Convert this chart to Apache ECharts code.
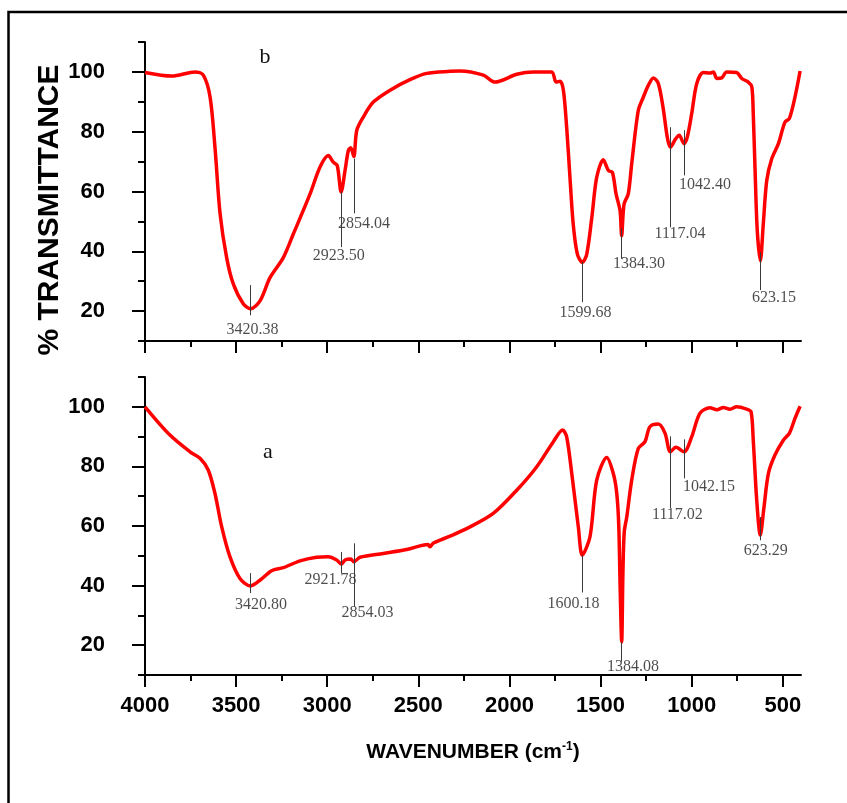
<!DOCTYPE html>
<html>
<head>
<meta charset="utf-8">
<script src="https://cdn.jsdelivr.net/npm/echarts@6/dist/echarts.min.js"></script>
<style>
html,body{margin:0;padding:0;background:#fff;}
#chart{width:847px;height:803px;}
</style>
</head>
<body>
<div id="chart"></div>
<script>
// FT-IR spectra, sample b (upper panel) and sample a (lower panel)
const wavenumberB = [4000, 3853, 3726, 3680, 3643, 3616, 3588, 3552, 3515, 3460, 3420.38, 3369, 3314, 3241, 3186, 3094, 3040, 2994, 2967, 2945,
  2923.5, 2902, 2884, 2871, 2854.04, 2838, 2802, 2747, 2655, 2546, 2454, 2326, 2272, 2143, 2079, 1960, 1869, 1768, 1744, 1722,
  1704, 1686, 1668, 1650, 1627, 1599.68, 1576, 1548, 1521, 1485, 1457, 1435, 1415, 1393, 1384.3, 1371, 1348, 1329, 1293, 1265,
  1238, 1210, 1183, 1156, 1134, 1117.04, 1088, 1068, 1042.4, 1024, 1000, 972, 936, 899, 881, 862, 835, 808, 753, 725,
  689, 670, 662, 652, 640, 623.15, 607, 588, 561, 524, 488, 464, 433, 405];
const transB = [99.8, 98.6, 100, 98.9, 91.6, 74.8, 52.6, 37.9, 29, 22.4, 20.8, 23.4, 31.2, 37.9, 45.8, 59.2, 68.1, 72, 69.8, 68.7,
  59.8, 67.1, 73.7, 74.6, 71.7, 80.4, 84.9, 89.9, 93.9, 97.4, 99.5, 100.2, 100.3, 98.9, 96.6, 99.2, 100, 100, 96.6, 96.9,
  93.9, 81.5, 64.8, 49.1, 39, 36.3, 39, 51.3, 64.8, 70.6, 67, 66.4, 59.2, 53.6, 45.2, 55.8, 59.2, 69.3, 87.1, 91.6,
  95.5, 98, 96.1, 87.7, 78.2, 74.8, 77.6, 78.8, 76, 78.2, 86, 96.1, 99.8, 99.6, 100, 97.8, 98, 100, 99.8, 97.8,
  96.6, 95, 86, 67, 46.9, 36.8, 49.1, 63.7, 70.9, 76, 83.2, 84.4, 91.6, 100.3];

const wavenumberA = [4000, 3863, 3753, 3698, 3653, 3616, 3579, 3534, 3479, 3420.8, 3369, 3305, 3241, 3149, 3058, 2994, 2948, 2921.78, 2902, 2871,
  2854.03, 2820, 2692, 2564, 2447, 2436, 2419, 2326, 2216, 2089, 1960, 1850, 1759, 1708, 1686, 1658, 1622, 1600.18, 1558, 1521,
  1466, 1430, 1411, 1400, 1392, 1384.08, 1377, 1370, 1356, 1329, 1293, 1256, 1229, 1183, 1146, 1117.02, 1086, 1042.15, 1000, 955,
  900, 862, 826, 790, 753, 698, 674, 662, 643, 623.29, 603, 579, 543, 497, 464, 433, 405];
const transA = [100, 90.5, 84.9, 82.7, 78.8, 70.9, 59.7, 49.7, 42.4, 39.9, 41.8, 45, 46, 48.3, 49.5, 49.7, 48.6, 47.2, 48.6, 48.9,
  48, 49.5, 50.8, 52.1, 53.8, 53.0, 54.2, 56.6, 59.7, 64.2, 72, 79.9, 88.3, 92.2, 89.9, 77.6, 59.7, 50.2, 56.4, 75.4,
  83, 77.6, 70.9, 60, 38, 21.1, 45, 58, 63.1, 75.4, 86, 88.3, 93.3, 94.2, 91.1, 84.9, 86.4, 84.9, 89.9, 97.8,
  99.7, 99, 99.8, 99.2, 100, 99.2, 98.3, 88.8, 68.7, 56.9, 66.4, 77.6, 83.8, 88.8, 91.1, 96.1, 100.2];

// labelled absorption bands, cm-1
const bandsB = [3420.38, 2923.50, 2854.04, 1599.68, 1384.30, 1117.04, 1042.40, 623.15];
const bandsA = [3420.80, 2921.78, 2854.03, 1600.18, 1384.08, 1117.02, 1042.15, 623.29];

// leader line ends [%T upper, %T lower] and band label anchors [cm-1, %T]
const leaderB = [[28.7, 18.6], [60, 41.4], [71, 52.7], [36.4, 23], [47.7, 37.5], [81.5, 48], [80.5, 65.4], [39.7, 27]];
const labelAtB = [[3410, 13.9], [2937, 38.4], [2798, 49.1], [1583, 19.3], [1289, 35.7], [1064, 46], [927, 62.1], [548, 24.3]];
const leaderA = [[44.2, 37.5], [51.3, 44.1], [54.2, 32.9], [50.2, 37.7], [21.1, 14.5], [90.1, 66], [89.1, 76], [63, 55.2]];
const labelAtA = [[3363, 33.5], [2982, 41.9], [2779, 31], [1648, 33.9], [1322, 12.8], [1078, 63.6], [905, 73.3], [594, 51.6]];

// axis ticks
const xMajor = [4000, 3500, 3000, 2500, 2000, 1500, 1000, 500];
const xMinor = [3750, 3250, 2750, 2250, 1750, 1250, 750];
const yMajor = [20, 40, 60, 80, 100];
const yMinor = [10, 30, 50, 70, 90, 110];

const SANS = '"Liberation Sans", Arial, sans-serif';
const SERIF = '"Liberation Serif", "Times New Roman", serif';

function zip(xs, ys) { return xs.map((x, i) => [x, ys[i]]); }

function xAxisPair(gridIndex, withLabels) {
  const base = {
    type: 'value', gridIndex, inverse: true, min: 400, max: 4000, position: 'bottom',
    splitLine: { show: false }
  };
  const main = Object.assign({}, base, {
    axisLine: { show: true, onZero: false, lineStyle: { color: '#000', width: 2 } },
    axisTick: { show: true, customValues: xMajor, length: 12, lineStyle: { color: '#000', width: 2 } },
    axisLabel: {
      show: withLabels, customValues: xMajor, margin: 20, formatter: v => String(v),
      fontFamily: SANS, fontWeight: 'bold', fontSize: 22, color: '#000'
    }
  });
  if (withLabels) {
    Object.assign(main, {
      name: '{t|WAVENUMBER (cm}{s|-1}{t|)}',
      nameLocation: 'middle',
      nameGap: 66,
      nameTextStyle: {
        rich: {
          t: { fontFamily: SANS, fontWeight: 'bold', fontSize: 21, color: '#000' },
          s: { fontFamily: SANS, fontWeight: 'bold', fontSize: 12, color: '#000', padding: [0, 0, 10, 0] }
        }
      }
    });
  }
  const minor = Object.assign({}, base, {
    axisLine: { show: false, onZero: false },
    axisTick: { show: true, customValues: xMinor, length: 6, lineStyle: { color: '#000', width: 2 } },
    axisLabel: { show: false }
  });
  return [main, minor];
}

function yAxisPair(gridIndex) {
  const base = { type: 'value', gridIndex, min: 10, max: 110, position: 'left', splitLine: { show: false } };
  const main = Object.assign({}, base, {
    axisLine: { show: true, onZero: false, lineStyle: { color: '#000', width: 2 } },
    axisTick: { show: true, customValues: yMajor, length: 13, lineStyle: { color: '#000', width: 2 } },
    axisLabel: {
      show: true, customValues: yMajor, margin: 40,
      fontFamily: SANS, fontWeight: 'bold', fontSize: 22, color: '#000'
    }
  });
  const minor = Object.assign({}, base, {
    axisLine: { show: false, onZero: false },
    axisTick: { show: true, customValues: yMinor, length: 7, lineStyle: { color: '#000', width: 2 } },
    axisLabel: { show: false }
  });
  return [main, minor];
}

function spectrum(axisIndex, xs, ys, bands, leaders) {
  return {
    type: 'line', xAxisIndex: axisIndex, yAxisIndex: axisIndex,
    data: zip(xs, ys), showSymbol: false, smooth: 0.3, silent: true,
    lineStyle: { color: '#ff0000', width: 3.5 },
    markLine: {
      silent: true, symbol: 'none', animation: false,
      label: { show: false },
      lineStyle: { color: '#3a3a3a', width: 1, type: 'solid' },
      data: bands.map((b, i) => [{ coord: [b, leaders[i][0]] }, { coord: [b, leaders[i][1]] }])
    },
    z: 3
  };
}

function bandLabels(axisIndex, bands, anchors) {
  return {
    type: 'scatter', xAxisIndex: axisIndex, yAxisIndex: axisIndex, silent: true,
    symbolSize: 1, itemStyle: { color: 'rgba(0,0,0,0)' },
    data: anchors.map((p, i) => ({ value: p, name: bands[i].toFixed(2) })),
    label: {
      show: true, position: 'inside', formatter: p => p.name,
      fontFamily: SERIF, fontSize: 16, color: '#1e1e1e'
    },
    z: 4
  };
}

const xa = [...xAxisPair(0, false), ...xAxisPair(1, true)];
const ya = [...yAxisPair(0), ...yAxisPair(1)];

const chart = echarts.init(document.getElementById('chart'), null, { renderer: 'canvas' });
chart.setOption({
  animation: false,
  backgroundColor: '#ffffff',
  grid: [
    { left: 145, top: 42, width: 656, height: 299 },
    { left: 145, top: 377, width: 656, height: 298 }
  ],
  xAxis: xa,
  yAxis: ya,
  series: [
    spectrum(0, wavenumberB, transB, bandsB, leaderB),
    bandLabels(0, bandsB, labelAtB),
    spectrum(2, wavenumberA, transA, bandsA, leaderA),
    bandLabels(2, bandsA, labelAtA)
  ],
  graphic: [
    {
      type: 'rect', silent: true, z: 10,
      shape: { x: 8.5, y: 12, width: 900, height: 900 },
      style: { fill: 'none', stroke: '#000', lineWidth: 2.5 }
    },
    {
      type: 'text', silent: true, x: 49.5, y: 210, rotation: Math.PI / 2,
      style: {
        text: '% TRANSMITTANCE', fontFamily: SANS, fontWeight: 'bold', fontSize: 30,
        fill: '#000', align: 'center', verticalAlign: 'middle'
      }
    },
    {
      type: 'text', silent: true, x: 265, y: 57,
      style: { text: 'b', fontFamily: SERIF, fontSize: 22, fill: '#111', align: 'center', verticalAlign: 'middle' }
    },
    {
      type: 'text', silent: true, x: 268, y: 452,
      style: { text: 'a', fontFamily: SERIF, fontSize: 22, fill: '#111', align: 'center', verticalAlign: 'middle' }
    }
  ]
});
</script>
</body>
</html>
